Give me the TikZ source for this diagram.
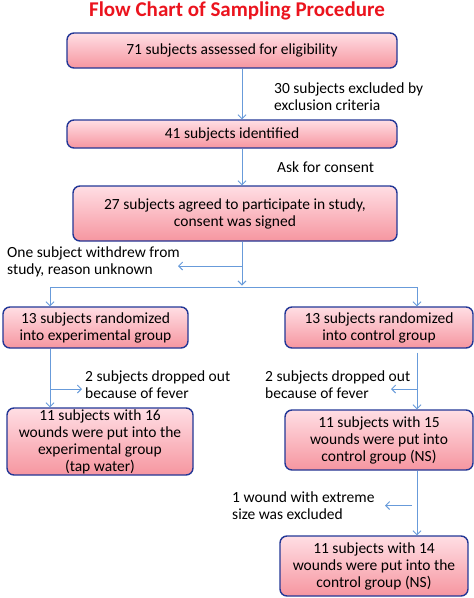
\documentclass[tikz,border=0pt]{standalone}
\usepackage{fontspec}
\setmainfont{Carlito}
\definecolor{boxblue}{RGB}{35, 55, 150}
\definecolor{pinktop}{RGB}{255, 222, 228}
\definecolor{pinkbot}{RGB}{246, 150, 160}
\definecolor{flowblue}{RGB}{104, 155, 218}
\definecolor{titlered}{RGB}{235, 20, 30}
\usepackage{tikz}
\usetikzlibrary{arrows.meta, positioning, calc}

\begin{document}
\begin{tikzpicture}[x=1pt, y=-1pt, >={Straight Barb[length=4pt, width=8pt]},
    stagebox/.style={rectangle, draw=boxblue, line width=1.4pt, rounded corners=7pt, top color=pinktop, bottom color=pinkbot, align=center, inner sep=0pt, font=\fontsize{15.5}{17}\selectfont},
    note/.style={anchor=west, align=left, inner sep=0pt, font=\fontsize{15.5}{17}\selectfont},
    flow/.style={draw=flowblue, line width=0.9pt}]
        \useasboundingbox (0,0) rectangle (474,598);
        \node [font=\fontsize{21}{23}\selectfont\bfseries, text=titlered] (title) at (237,11) {Flow Chart of Sampling Procedure};

        % main stages
        \node [stagebox, minimum width=330, minimum height=35] (assessed) at (232,50.5) {71 subjects assessed for eligibility};
        \node [stagebox, minimum width=330, minimum height=28] (identified) at (232,134) {41 subjects identified};
        \node [stagebox, minimum width=324, minimum height=55] (agreed) at (235,213.5) {27 subjects agreed to participate in study,\\consent was signed};
        \node [stagebox, minimum width=185, minimum height=41] (expgroup) at (95.5,327.5) {13 subjects randomized\\into experimental group};
        \node [stagebox, minimum width=188, minimum height=41] (ctrlgroup) at (379,327.5) {13 subjects randomized\\into control group};
        \node [stagebox, minimum width=186, minimum height=67] (expwounds) at (100,441.5) {11 subjects with 16\\wounds were put into the\\experimental group\\(tap water)};
        \node [stagebox, minimum width=188, minimum height=60] (ctrlwounds) at (379,440) {11 subjects with 15\\wounds were put into\\control group (NS)};
        \node [stagebox, minimum width=188, minimum height=60] (ctrlfinal) at (374,566) {11 subjects with 14\\wounds were put into the\\control group (NS)};

        % side notes
        \node [note] (excluded) at (274,97) {30 subjects excluded by\\exclusion criteria};
        \node [note] (consent) at (277,167) {Ask for consent};
        \node [note] (withdrew) at (7,261.5) {One subject withdrew from\\study, reason unknown};
        \node [note] (expdrop) at (85,384.5) {2 subjects dropped out\\because of fever};
        \node [note] (ctrldrop) at (265,384.5) {2 subjects dropped out\\because of fever};
        \node [note] (extreme) at (232,506) {1 wound with extreme\\size was excluded};

        % columns and branch points
        \coordinate (mid) at (242,0);
        \coordinate (lcol) at (50,0);
        \coordinate (rcol) at (417,0);
        \coordinate (hbar) at (0,287);
        \coordinate (wd) at (178,266);
        \coordinate (ed) at (82,389);
        \coordinate (cd) at (391,389);
        \coordinate (xd) at (385,505.5);

        \draw [flow, ->] (assessed.south -| mid) -- (identified.north -| mid);
        \draw [flow, ->] (identified.south -| mid) -- (agreed.north -| mid);
        \draw [flow, ->] (agreed.south -| mid) -- ($(hbar -| mid)+(0,-1.5)$);
        \draw [flow, ->] (wd -| mid) -- (wd);
        \draw [flow] (hbar -| lcol) -- (hbar -| rcol);
        \draw [flow, ->] (hbar -| lcol) -- (expgroup.north -| lcol);
        \draw [flow, ->] (hbar -| rcol) -- (ctrlgroup.north -| rcol);

        \draw [flow, ->] (expgroup.south -| lcol) -- (expwounds.north -| lcol);
        \draw [flow, ->] (ed -| lcol) -- (ed);
        \draw [flow, ->] ($(ctrlgroup.south -| rcol)+(0,4)$) -- (ctrlwounds.north -| rcol);
        \draw [flow, ->] (cd -| rcol) -- (cd);

        \draw [flow, ->] (ctrlwounds.south -| rcol) -- (ctrlfinal.north -| rcol);
        \draw [flow, ->] ($(xd -| rcol)+(-5,0)$) -- (xd);
\end{tikzpicture}
\end{document}
